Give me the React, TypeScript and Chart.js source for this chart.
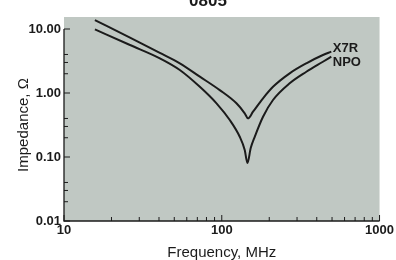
import React, { useEffect, useRef } from "react";
import { Chart, registerables } from "chart.js";

Chart.register(...registerables);

const titleText = "0805";
const xTitle = "Frequency, MHz";
const yTitle = "Impedance, Ω";

const freqX7R = [15.7, 26.2, 40.5, 54.2, 72.6, 97.1, 123.9, 139.8, 146.7, 157.8, 182.6, 211.2, 269.4, 343.6, 437.7, 494.6];
const zX7R = [13.8, 7.31, 4.22, 2.91, 1.8, 1.11, 0.69, 0.482, 0.402, 0.51, 0.826, 1.25, 2.03, 2.91, 3.92, 4.42];

const freqNPO = [15.7, 26.2, 40.5, 54.2, 72.6, 92.6, 112.4, 130, 139.8, 145.4, 152.6, 161.8, 182.6, 211.2, 269.4, 343.6, 437.7, 494.6];
const zNPO = [9.89, 5.62, 3.48, 2.29, 1.25, 0.69, 0.378, 0.207, 0.129, 0.0805, 0.138, 0.207, 0.426, 0.778, 1.42, 2.15, 3.08, 3.69];

const xMajorTicks = [10, 100, 1000];
const xMajorLabels = ["10", "100", "1000"];
const yMajorTicks = [0.01, 0.1, 1, 10];
const yMajorLabels = ["0.01", "0.10", "1.00", "10.00"];
const xMinorMultipliers = [2, 3, 4, 5, 6, 7, 8, 9];
const yMinorMultipliers = [2, 3, 4];
const seriesNames = ["X7R", "NPO"];

const FONT = "'Liberation Sans', Arial, Helvetica, sans-serif";
const INK = "#1b1b1b";

const decorPlugin = {
  id: "decor",
  beforeDatasetsDraw(chart: any) {
    const { ctx, chartArea } = chart;
    ctx.save();
    ctx.fillStyle = "#c0c8c3";
    ctx.fillRect(chartArea.left, chartArea.top, chartArea.right - chartArea.left, chartArea.bottom - chartArea.top);
    ctx.restore();
  },
  afterDatasetsDraw(chart: any) {
    const { ctx, chartArea } = chart;
    const xs = chart.scales.x;
    const ys = chart.scales.y;
    const left = chartArea.left;
    const bottom = chartArea.bottom;
    ctx.save();
    ctx.strokeStyle = INK;
    ctx.lineWidth = 1.3;
    const yTop = ys.getPixelForValue(yMajorTicks[yMajorTicks.length - 1]);
    ctx.beginPath();
    ctx.moveTo(left, yTop);
    ctx.lineTo(left, bottom);
    ctx.lineTo(xs.getPixelForValue(xMajorTicks[xMajorTicks.length - 1]), bottom);
    ctx.stroke();
    ctx.lineWidth = 1;
    yMajorTicks.forEach((v, i) => {
      const py = ys.getPixelForValue(v);
      ctx.beginPath();
      ctx.moveTo(left, py);
      ctx.lineTo(left + 6, py);
      ctx.stroke();
      if (i < yMajorTicks.length - 1) {
        yMinorMultipliers.forEach((m) => {
          const p = ys.getPixelForValue(v * m);
          ctx.beginPath();
          ctx.moveTo(left, p);
          ctx.lineTo(left + 4, p);
          ctx.stroke();
        });
      }
    });
    xMajorTicks.forEach((v, i) => {
      const px = xs.getPixelForValue(v);
      ctx.beginPath();
      ctx.moveTo(px, bottom);
      ctx.lineTo(px, bottom - 6);
      ctx.stroke();
      if (i < xMajorTicks.length - 1) {
        xMinorMultipliers.forEach((m) => {
          const p = xs.getPixelForValue(v * m);
          ctx.beginPath();
          ctx.moveTo(p, bottom);
          ctx.lineTo(p, bottom - 4);
          ctx.stroke();
        });
      }
    });
    ctx.fillStyle = INK;
    ctx.textAlign = "center";
    ctx.textBaseline = "alphabetic";
    ctx.font = `bold 17px ${FONT}`;
    ctx.fillText(titleText, 208, 6);
    ctx.font = `15px ${FONT}`;
    ctx.textBaseline = "middle";
    ctx.fillText(xTitle, (chartArea.left + chartArea.right) / 2, 252.5);
    ctx.save();
    ctx.translate(24, (yTop + bottom) / 2);
    ctx.rotate(-Math.PI / 2);
    ctx.fillText(yTitle, 0, 0);
    ctx.restore();
    ctx.font = `bold 13px ${FONT}`;
    ctx.textAlign = "left";
    const endX7R = chart.getDatasetMeta(0).data[freqX7R.length - 1];
    const endNPO = chart.getDatasetMeta(1).data[freqNPO.length - 1];
    ctx.fillText(seriesNames[0], endX7R.x + 1.5, endX7R.y - 3.5);
    ctx.fillText(seriesNames[1], endNPO.x + 1.5, endNPO.y + 5.5);
    ctx.restore();
  },
};

export default function App() {
  const ref = useRef<HTMLCanvasElement | null>(null);
  useEffect(() => {
    if (!ref.current) return;
    const chart = new Chart(ref.current, {
      type: "line",
      data: {
        datasets: [
          {
            label: seriesNames[0],
            data: freqX7R.map((f, i) => ({ x: f, y: zX7R[i] })),
            borderColor: INK,
            borderWidth: 2,
            pointRadius: 0,
            cubicInterpolationMode: "monotone",
          },
          {
            label: seriesNames[1],
            data: freqNPO.map((f, i) => ({ x: f, y: zNPO[i] })),
            borderColor: INK,
            borderWidth: 2,
            pointRadius: 0,
            cubicInterpolationMode: "monotone",
          },
        ],
      },
      options: {
        animation: false,
        responsive: true,
        maintainAspectRatio: false,
        layout: { padding: { top: 17, right: 16, left: 0, bottom: 0 } },
        plugins: { legend: { display: false }, title: { display: false }, tooltip: { enabled: false } },
        scales: {
          x: {
            type: "logarithmic",
            min: 10,
            max: 1000,
            grid: { display: false, drawTicks: false },
            border: { display: false },
            afterBuildTicks: (s: any) => {
              s.ticks = xMajorTicks.map((v) => ({ value: v }));
            },
            afterFit: (s: any) => {
              s.height = 39;
            },
            ticks: {
              padding: 2,
              autoSkip: false,
              maxRotation: 0,
              color: INK,
              font: { family: FONT, size: 13, weight: "bold" },
              callback: (v: any) => xMajorLabels[xMajorTicks.indexOf(Number(v))] ?? "",
            },
          },
          y: {
            type: "logarithmic",
            min: 0.01,
            max: 15.4,
            grid: { display: false, drawTicks: false },
            border: { display: false },
            afterBuildTicks: (s: any) => {
              s.ticks = yMajorTicks.map((v) => ({ value: v }));
            },
            afterFit: (s: any) => {
              s.width = 64;
            },
            ticks: {
              padding: 3,
              autoSkip: false,
              color: INK,
              font: { family: FONT, size: 13, weight: "bold" },
              callback: (v: any) => {
                const idx = yMajorTicks.findIndex((t) => Math.abs(t - Number(v)) < 1e-9);
                return idx >= 0 ? yMajorLabels[idx] : "";
              },
            },
          },
        },
      },
      plugins: [decorPlugin],
    } as any);
    return () => chart.destroy();
  }, []);
  return (
    <div style={{ position: "absolute", left: 0, top: 0, width: 396, height: 260, background: "#fff" }}>
      <canvas ref={ref} />
    </div>
  );
}
